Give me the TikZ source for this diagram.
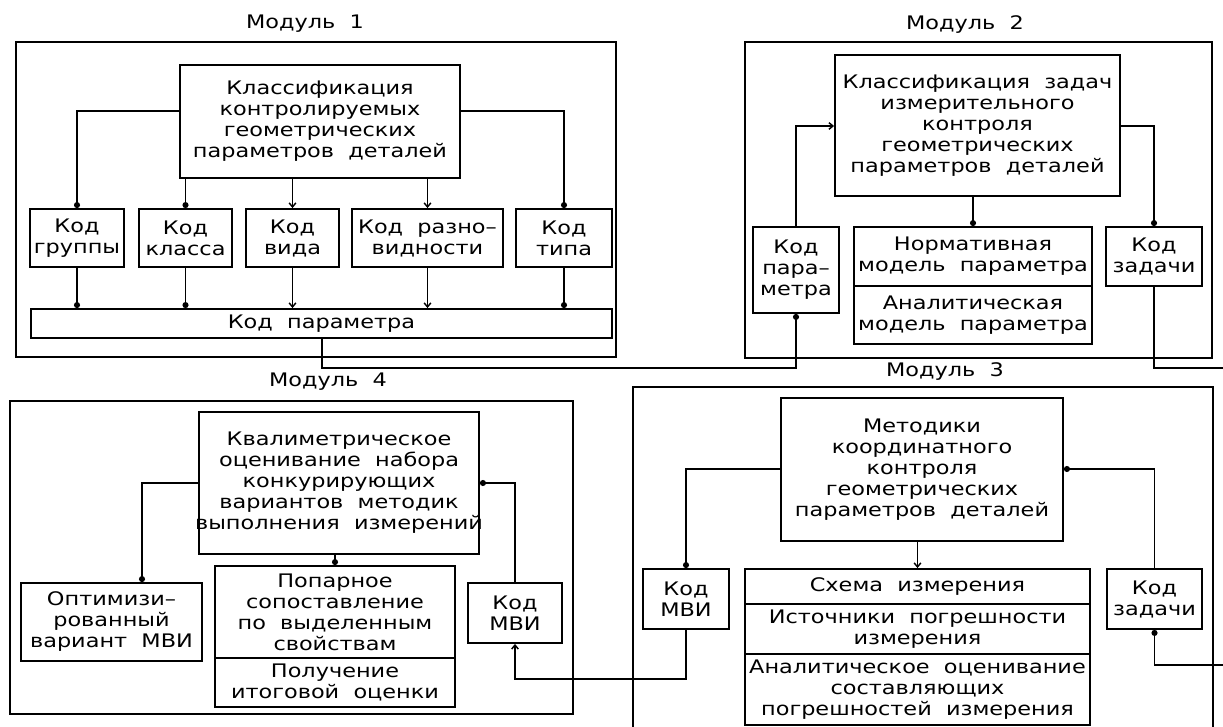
\documentclass[tikz,border=0pt]{standalone}
\usepackage{fontspec}
\setmainfont{DejaVu Sans}[FakeStretch=1.2,WordSpace={2,0,0}]
\usetikzlibrary{arrows.meta}
\newcommand\dgfont{\fontsize{14pt}{15.75pt}\selectfont}
\begin{document}
\begin{tikzpicture}[x=0.75pt,y=-0.75pt,
  ln/.style={line width=1.4pt},
  bx/.style={draw,ln,inner sep=0pt,align=center,font=\dgfont},
  frm/.style={draw,line width=1.5pt,inner sep=0pt},
  ttl/.style={font=\dgfont,inner sep=0pt},
  wh/.style 2 args={minimum width=#1*0.75pt,minimum height=#2*0.75pt},
  dot/.style={ln,-{Circle[length=4.5pt,width=4.5pt]}},
  vtip/.style={ln,-{Straight Barb[length=3pt,width=5pt,line width=1.1pt]}}]
\useasboundingbox (0,0) rectangle (1223,727);

% ---------- Module 1 ----------
\node[ttl] (t1) at (305,24) {Модуль 1};
\node[frm,wh={600}{315}] (f1) at (316,199.5) {};
\node[bx,wh={280}{113}] (m1main) at (320,121.5) {Классификация\\контролируемых\\геометрических\\параметров деталей};
\node[bx,wh={94}{58}] (g) at (77,238) {Код\\группы};
\node[bx,wh={93}{58}] (kl) at (185.5,238) {Код\\класса};
\node[bx,wh={93}{58}] (vid) at (292.5,238) {Код\\вида};
\node[bx,wh={151}{58}] (raz) at (427.5,238) {Код разно–\\видности};
\node[bx,wh={96}{58}] (tip) at (564,238) {Код\\типа};
\node[bx,wh={581}{29}] (kp) at (321.5,323.5) {Код параметра};

\draw[dot] (m1main.west |- 0,111) -| (g.north);
\draw[dot] (m1main.south -| kl) -- (kl.north);
\draw[vtip] (m1main.south -| vid) -- (vid.north);
\draw[vtip] (m1main.south -| raz) -- (raz.north);
\draw[dot] (m1main.east |- 0,111) -| (tip.north);
\draw[dot] (g.south) -- (g.south |- kp.north);
\draw[dot] (kl.south) -- (kl.south |- kp.north);
\draw[vtip] (vid.south) -- (vid.south |- kp.north);
\draw[vtip] (raz.south) -- (raz.south |- kp.north);
\draw[dot] (tip.south) -- (tip.south |- kp.north);

% ---------- Module 2 ----------
\node[ttl] (t2) at (965,25) {Модуль 2};
\node[frm,wh={467}{316}] (f2) at (978.5,200) {};
\node[bx,wh={285}{141}] (m2main) at (977.5,125.5) {Классификация задач\\измерительного\\контроля\\геометрических\\параметров деталей};
\node[bx,wh={86}{86}] (kpm) at (796,270) {Код\\пара–\\метра};
\node[bx,wh={238}{59}] (norm) at (973,256.5) {Нормативная\\модель параметра};
\node[bx,wh={238}{58}] (anal) at (973,315) {Аналитическая\\модель параметра};
\node[bx,wh={96}{59}] (kz2) at (1154,256.5) {Код\\задачи};

\draw[vtip] (kpm.north) |- (m2main.west |- 0,126);
\draw[dot] (m2main.south -| norm) -- (norm.north);
\draw[dot] (m2main.east |- 0,126) -| (kz2.north);
\draw[dot] (kp.south -| 322,0) -- (322,368) -| (kpm.south);
\coordinate (e1) at (1223,368);
\draw[ln] (kz2.south) |- (e1);

% ---------- Module 3 ----------
\node[ttl] (t3) at (945,372) {Модуль 3};
\draw[line width=1.5pt] (633,727) -- (633,387) -- (1213,387) -- (1213,727);
\node[bx,wh={282}{143}] (m3main) at (922,469.5) {Методики\\координатного\\контроля\\геометрических\\параметров деталей};
\node[bx,wh={86}{60}] (kmvi3) at (686,599) {Код\\МВИ};
\node[bx,wh={345}{35}] (sch) at (917.5,586.5) {Схема измерения};
\node[bx,wh={345}{50}] (ist) at (917.5,629) {Источники погрешности\\измерения};
\node[bx,wh={345}{71}] (anoc) at (917.5,689.5) {Аналитическое оценивание\\составляющих\\погрешностей измерения};
\node[bx,wh={95}{60}] (kz3) at (1154.5,599) {Код\\задачи};

\draw[dot] (m3main.west |- 0,469) -| (kmvi3.north);
\draw[vtip] (m3main.south -| sch) -- (sch.north);
\draw[dot] (kz3.north) |- (m3main.east |- 0,469);
\coordinate (e2) at (1223,665);
\draw[dot] (e2) -| (kz3.south);

% ---------- Module 4 ----------
\node[ttl] (t4) at (328,382) {Модуль 4};
\node[frm,wh={563}{313}] (f4) at (291.5,557.5) {};
\node[bx,wh={280}{142}] (m4main) at (339,483) {Квалиметрическое\\оценивание набора\\конкурирующих\\вариантов методик\\\makebox[200pt][c]{выполнения измерений}};
\node[bx,wh={181}{78}] (opt) at (111.5,622) {Оптимизи–\\рованный\\вариант МВИ};
\node[bx,wh={240}{92}] (pop) at (335,612) {Попарное\\сопоставление\\по выделенным\\свойствам};
\node[bx,wh={240}{49}] (pol) at (335,682.5) {Получение\\итоговой оценки};
\node[bx,wh={94}{60}] (kmvi4) at (515,613) {Код\\МВИ};

\draw[dot] (m4main.west |- 0,483) -| (opt.north -| 142,0);
\draw[dot] (m4main.south -| pop) -- (pop.north);
\draw[dot] (kmvi4.north) |- (m4main.east |- 0,483);
\draw[vtip] (kmvi3.south) -- (kmvi3.south |- 0,679) -| (kmvi4.south);
\end{tikzpicture}
\end{document}
